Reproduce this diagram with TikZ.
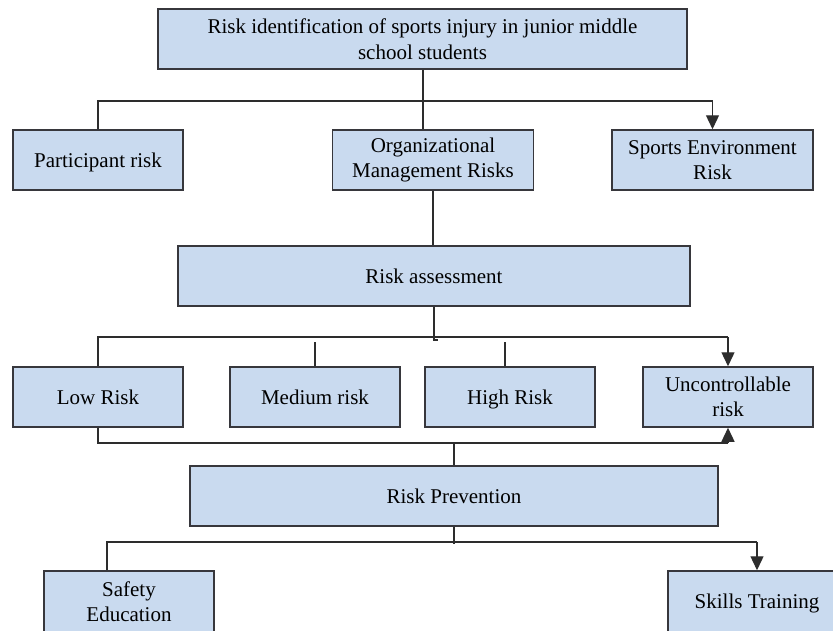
\documentclass[tikz,border=0pt]{standalone}
\usepackage{fontspec}
\setmainfont{Liberation Serif}
\usetikzlibrary{arrows.meta}
\definecolor{boxfill}{RGB}{201,218,239}
\definecolor{boxline}{RGB}{55,55,60}
\definecolor{conline}{RGB}{45,45,45}
\tikzset{
  riskbox/.style={draw=boxline, line width=1.5pt, fill=boxfill, inner sep=0pt,
    minimum height=60pt, align=center, font=\fontsize{21}{25.5}\selectfont},
  oneline/.style={text height=16pt, text depth=2pt},
  conn/.style={draw=conline, line width=1.3pt},
  arr/.style={conn, -{Triangle[length=14pt,width=13pt]}}
}
\begin{document}
\begin{tikzpicture}[x=1pt,y=-1pt]
\useasboundingbox (0,0) rectangle (833,630);
\clip (0,0) rectangle (833,630);
% nodes
\node[riskbox, minimum width=529pt] (top) at (422.5,39) {Risk identification of sports injury in junior middle\\school students};
\node[riskbox, oneline, minimum width=170pt] (part) at (98,160) {Participant risk};
\node[riskbox, minimum width=201pt] (org) at (433,160) {Organizational\\Management Risks};
\node[riskbox, minimum width=201pt] (env) at (712.5,160) {Sports Environment\\Risk};
\node[riskbox, oneline, minimum width=512pt] (ra) at (434,276) {Risk assessment};
\node[riskbox, oneline, minimum width=170pt] (low) at (98,397) {Low Risk};
\node[riskbox, oneline, minimum width=170pt] (med) at (315,397) {Medium risk};
\node[riskbox, oneline, minimum width=170pt] (high) at (510,397) {High Risk};
\node[riskbox, minimum width=170pt] (unc) at (728,397) {Uncontrollable\\risk};
\node[riskbox, oneline, minimum width=528pt] (rp) at (454,496) {Risk Prevention};
\node[riskbox, minimum width=170pt, minimum height=61pt] (safe) at (129,601.5) {Safety\\Education};
\node[riskbox, oneline, minimum width=178pt, minimum height=61pt] (skill) at (757,601.5) {Skills Training};
% junction coordinates
\coordinate (j1) at (423,101);
\coordinate (j2) at (434,337);
\coordinate (j3) at (454,443);
\coordinate (j4) at (454,542);
\coordinate (medtick) at (315,342);
\coordinate (hightick) at (505,342);
\coordinate (safetop) at (107,542);
% level 1
\draw[conn] (top.south -| j1) -- (org.north -| j1);
\draw[conn] (part.north) -- (part.north |- j1) -- (env.north |- j1);
\draw[arr] (env.north |- j1) -- (env.north);
% org -> assessment
\draw[conn] (org.south) -- (ra.north -| org.south);
% assessment -> levels
\draw[conn] (ra.south -| j2) -- ([yshift=-3pt]j2) -- ([xshift=4pt,yshift=-3pt]j2);
\draw[conn] (low.north) -- (low.north |- j2) -- (unc.north |- j2);
\draw[arr] (unc.north |- j2) -- (unc.north);
\draw[conn] (medtick) -- (med.north |- low.north);
\draw[conn] (hightick) -- (hightick |- high.north);
% bottom collector
\draw[conn] (low.south) -- (low.south |- j3) -- (unc.south |- j3);
\draw[arr] (unc.south |- j3) -- (unc.south);
\draw[conn] (j3) -- (rp.north -| j3);
% prevention -> measures
\draw[conn] (rp.south -| j4) -- ([yshift=-2pt]j4);
\draw[conn] (safetop |- safe.north) -- (safetop) -- (skill.north |- j4);
\draw[arr] (skill.north |- j4) -- (skill.north);
\end{tikzpicture}
\end{document}
